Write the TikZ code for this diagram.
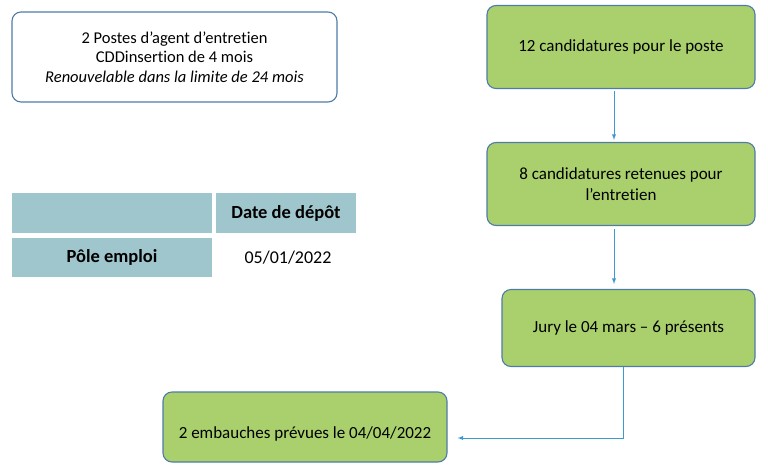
\documentclass[tikz,border=0pt]{standalone}
\usepackage{fontspec}
\setmainfont[Ligatures=NoCommon]{Carlito}
\usetikzlibrary{calc, positioning, arrows}

\definecolor{stepgreen}{HTML}{A9D06C}
\definecolor{stepborder}{HTML}{4F7CA6}
\definecolor{tablecell}{HTML}{9EC6CC}
\definecolor{flowline}{HTML}{3D9AD1}

\tikzset{
	stepnode/.style={align=center, fill=stepgreen, draw=stepborder, line width=1.1pt, rectangle, rounded corners=9pt, font=\fontsize{17}{21}\selectfont},
	cellnode/.style={align=center, fill=tablecell, rectangle, inner sep=0pt, font=\fontsize{18.5}{21}\selectfont\bfseries},
	flow/.style={-latex, draw=flowline, line width=0.9pt}
}

\begin{document}
\begin{tikzpicture}[x=1pt, y=-1pt]
	\useasboundingbox (0,0) rectangle (768,466);

	\node (Poste) at (174.5,57) [align=center, fill=white, draw=stepborder, line width=1.1pt, rectangle, rounded corners=9pt, minimum width=325pt, minimum height=90pt, font=\fontsize{16.5}{19.5}\selectfont]{2 Postes d'agent d'entretien\\CDDinsertion de 4 mois\\\textit{Renouvelable dans la limite de 24 mois}};

	\node (Candidatures) at (621,47) [stepnode, minimum width=268pt, minimum height=83pt]{12 candidatures pour le poste};
	\node (Retenues) at ($(Candidatures) + (0,137)$) [stepnode, minimum width=268pt, minimum height=83pt]{8 candidatures retenues pour\\l'entretien};
	\draw[flow, shorten <=2pt, shorten >=2pt] ([xshift=-7pt]Candidatures.south) -- ([xshift=-7pt]Retenues.north);

	\node (Jury) at ($(Retenues) + (7.5,144)$) [stepnode, minimum width=253pt, minimum height=77pt]{Jury le 04 mars -- 6 présents};
	\draw[flow, shorten <=3pt, shorten >=5pt] ([xshift=-7pt]Retenues.south) -- ([xshift=-7pt]Retenues.south |- Jury.north);

	\node (Embauches) at (305,427) [stepnode, minimum width=284pt, minimum height=70pt, text height=26pt, text depth=4pt]{2 embauches prévues le 04/04/2022};
	\draw[flow] ([xshift=-5pt]Jury.south) |- ([xshift=10pt, yshift=-11pt]Embauches.east);

	% tableau
	\node (CellVide) at (112,213) [cellnode, minimum width=200pt, minimum height=40pt]{};
	\node (CellDate) at ($(CellVide) + (174,0)$) [cellnode, minimum width=140pt, minimum height=40pt]{Date de dépôt};
	\node (CellPole) at ($(CellVide) + (0,44.5)$) [cellnode, minimum width=200pt, minimum height=39pt]{Pôle emploi};
	\node (CellJour) at ($(CellPole) + (176,0)$) [align=center, font=\fontsize{18}{21}\selectfont]{05/01/2022};
\end{tikzpicture}
\end{document}
